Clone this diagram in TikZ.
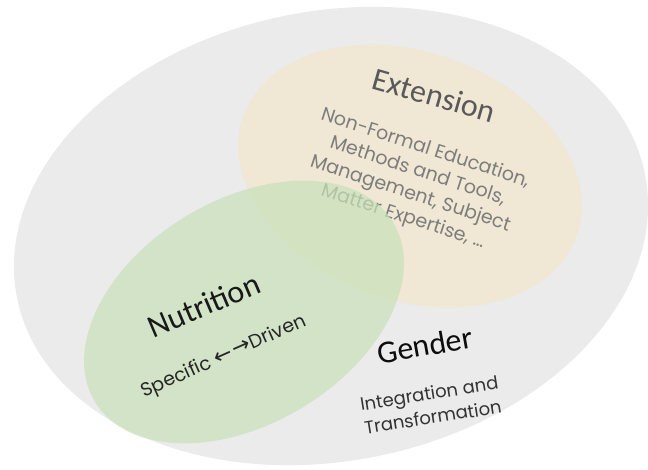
\documentclass[tikz,border=0pt]{standalone}
\usepackage{fontspec}
\setmainfont{Poppins}
\newfontfamily\headfont{Carlito}
\newfontfamily\arrowfont{DejaVu Sans}
\definecolor{outergray}{RGB}{235,235,235}
\definecolor{extbeige}{RGB}{240,231,212}
\definecolor{nutgreen}{RGB}{200,225,184}
\definecolor{bodygray}{RGB}{125,125,125}
\begin{document}
\begin{tikzpicture}[x=1pt,y=-1pt,
    head/.style={font=\headfont\fontsize{32}{36}\selectfont, inner sep=0pt},
    sub/.style 2 args={font=\fontsize{#1}{#2}\selectfont, align=center, inner sep=0pt}]
    \useasboundingbox (0,0) rectangle (648,470);
    \fill [outergray, rotate around={11:(331,236)}] (331,236) ellipse (320 and 225);
    \fill [extbeige, rotate around={-20:(410,176)}] (410,176) ellipse (177 and 124);
    \node [head, text=black!65, rotate=-16] (extension) at (434,95) {Extension};
    \node [sub={19}{24}, text=bodygray, rotate=-18] (exttext) at (414,183)
        {Non-Formal Education,\\Methods and Tools,\\Management, Subject\\Matter Expertise, \dots};
    \fill [nutgreen, opacity=.7, rotate around={31:(244,312)}] (244,312) ellipse (174 and 112);
    \node [head, text=black!90, rotate=23] (nutrition) at (204,305) {Nutrition};
    \node [sub={19}{22}, text=black!85, rotate=24] (nuttext) at (224,357)
        {Specific {\arrowfont\fontsize{22}{22}\selectfont\char"2190\kern2pt\char"2192}Driven};
    \node [head, text=black!95, rotate=10] (gender) at (425,345) {Gender};
    \node [sub={18}{24}, text=black!80, rotate=9] (gendertext) at (431,405)
        {Integration and\\Transformation};
\end{tikzpicture}
\end{document}
